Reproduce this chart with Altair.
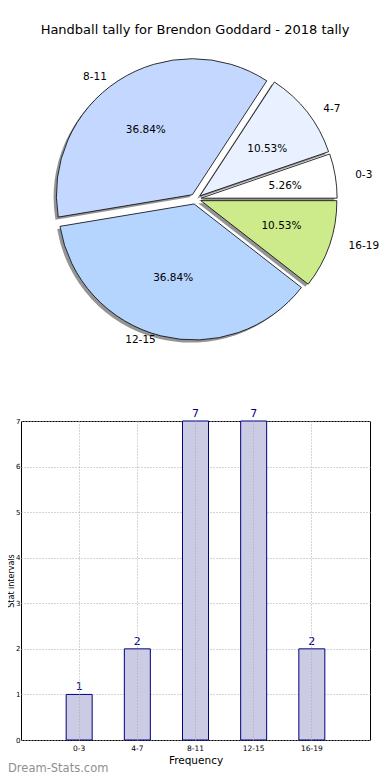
import altair as alt
import pandas as pd

# ---------------- data ----------------
categories = ["0-3", "4-7", "8-11", "12-15", "16-19"]
counts = [1, 2, 7, 7, 2]
slice_colors = ["#ffffff", "#e9f0ff", "#c4d8ff", "#b5d5ff", "#cdeb8b"]
title_text = "Handball tally for Brendon Goddard - 2018 tally"
y_ticks = [0, 1, 2, 3, 4, 5, 6, 7]
watermark = ["Dream-Stats.com"]

df = pd.DataFrame({"cat": categories, "count": counts, "idx": list(range(len(categories)))})

FONT = "DejaVu Sans"
LEFT = 13  # page x of plot origin minus the 8px page margin

# ---------------- pie geometry (layout constants) ----------------
CX, CY = 187.5 - LEFT, 191.0   # pie centre inside the top panel
RX, RY = 142.0, 128.0           # label ellipse radii
R = 136.0                       # wedge radius
E = 0.04                        # explode fraction

pie_base = (
    alt.Chart(df)
    .transform_joinaggregate(total="sum(count)")
    .transform_window(cum="sum(count)", sort=[alt.SortField("idx")], frame=[None, 0])
    .transform_calculate(
        f0="(datum.cum - datum.count) / datum.total",
        f1="datum.cum / datum.total",
    )
    .transform_calculate(
        t0="PI/2 - 2*PI*datum.f1",
        t1="PI/2 - 2*PI*datum.f0",
        m="PI*(datum.f0 + datum.f1)",
        pct="format(datum.count / datum.total * 100, '.2f') + '%'",
    )
    .transform_calculate(
        cx=f"{CX} + {E}*{RX}*cos(datum.m)",
        cy=f"{CY} - {E}*{RY}*sin(datum.m)",
        px=f"{CX} + ({E}+0.6)*{RX}*cos(datum.m)",
        py=f"{CY} - ({E}+0.6)*{RY}*sin(datum.m)",
        lx=f"{CX} + ({E}+1.1)*{RX}*cos(datum.m)",
        ly=f"{CY} - ({E}+1.1)*{RY}*sin(datum.m)",
    )
)

shadow = pie_base.mark_arc(radius=R, fill="#4d4d4d", opacity=0.6, xOffset=-2.8, yOffset=2.6).encode(
    x=alt.X("cx:Q", scale=None),
    y=alt.Y("cy:Q", scale=None),
    theta=alt.Theta("t0:Q", scale=None),
    theta2="t1:Q",
)

wedges = pie_base.mark_arc(radius=R, stroke="black", strokeWidth=0.8).encode(
    x=alt.X("cx:Q", scale=None),
    y=alt.Y("cy:Q", scale=None),
    theta=alt.Theta("t0:Q", scale=None),
    theta2="t1:Q",
    fill=alt.Fill("cat:N", scale=alt.Scale(domain=categories, range=slice_colors), legend=None),
)

pct_text = pie_base.mark_text(font=FONT, fontSize=10.5, color="black", baseline="middle").encode(
    x=alt.X("px:Q", scale=None),
    y=alt.Y("py:Q", scale=None),
    text="pct:N",
)

lab_right = pie_base.transform_filter("cos(datum.m) >= 0").mark_text(
    font=FONT, fontSize=10.5, color="black", align="left", baseline="middle"
).encode(x=alt.X("lx:Q", scale=None), y=alt.Y("ly:Q", scale=None), text="cat:N")

lab_left = pie_base.transform_filter("cos(datum.m) < 0").mark_text(
    font=FONT, fontSize=10.5, color="black", align="right", baseline="middle"
).encode(x=alt.X("lx:Q", scale=None), y=alt.Y("ly:Q", scale=None), text="cat:N")

title = alt.Chart(pd.DataFrame({"t": [title_text]})).mark_text(
    font=FONT, fontSize=13, color="black", baseline="middle"
).encode(text="t:N", x=alt.value(187 - LEFT), y=alt.value(22))

pie = alt.layer(shadow, wedges, pct_text, lab_right, lab_left, title).properties(
    width=382 - LEFT, height=380, view=alt.ViewConfig(stroke=None)
)

# ---------------- bar chart ----------------
bars = alt.Chart(df).mark_bar(fill="#cbcbe4", stroke="#000080", strokeWidth=1).encode(
    x=alt.X(
        "cat:N",
        sort=categories,
        scale=alt.Scale(paddingInner=0.553, paddingOuter=0.7765),
        axis=alt.Axis(
            title="Frequency",
            labelAngle=0,
            labelFontSize=7.5,
            labelFont=FONT,
            labelColor="black",
            labelPadding=4,
            titleFont=FONT,
            titleFontSize=10.5,
            titleFontWeight="normal",
            titleColor="black",
            titlePadding=4,
            domain=False,
            ticks=False,
            grid=True,
            gridDash=[1, 2],
            gridColor="#aaaaaa",
            bandPosition=0.5,
            zindex=1,
        ),
    ),
    y=alt.Y(
        "count:Q",
        scale=alt.Scale(domain=[0, 7], nice=False),
        axis=alt.Axis(
            values=y_ticks,
            title="Stat intervals",
            labelFontSize=7,
            labelFont=FONT,
            labelColor="black",
            labelPadding=1,
            titleFont=FONT,
            titleFontSize=8,
            titleFontWeight="normal",
            titleColor="black",
            titleX=-5.3,
            titleAngle=270,
            titleBaseline="bottom",
            domain=False,
            ticks=False,
            grid=True,
            gridDash=[1, 2],
            gridColor="#aaaaaa",
            zindex=0,
        ),
    ),
)

bar_labels = alt.Chart(df).mark_text(
    font=FONT, fontSize=11, color="#000080", dy=-4, baseline="alphabetic"
).encode(x=alt.X("cat:N", sort=categories), y="count:Q", text="count:Q")

wm = alt.Chart(pd.DataFrame({"w": watermark})).mark_text(
    font=FONT, fontSize=11.5, color="#8f8f8f", align="left", baseline="middle"
).encode(text="w:N", x=alt.value(-LEFT), y=alt.value(348))

bar = alt.layer(bars, bar_labels, wm).properties(
    width=370 - 8 - LEFT, height=319, view=alt.ViewConfig(stroke="black", strokeWidth=1)
)

chart = (
    alt.vconcat(pie, bar, spacing=33, bounds="flush")
    .properties(
        autosize=alt.AutoSizeParams(type="none"),
        padding={"left": LEFT, "top": 0, "right": 382 - LEFT - 11, "bottom": 771},
    )
    .configure(background="white")
)

chart.save("out.html", embed_options={"renderer": "svg", "actions": False})
